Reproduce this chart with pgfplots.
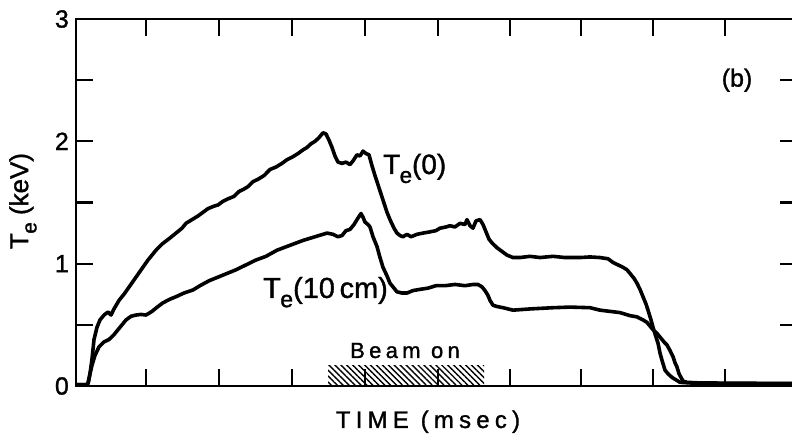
\documentclass[border=0pt]{standalone}
\usepackage{fontspec}
\setmainfont{Liberation Sans}[FakeBold=1.3]
\newfontfamily\spaced{Liberation Sans}[LetterSpace=22, FakeBold=1.3]
\newfontfamily\spacedb{Liberation Sans}[LetterSpace=20, FakeBold=1.3]
\usepackage{graphicx}
\usepackage{pgfplots}
\pgfplotsset{compat=1.18}
\usetikzlibrary{patterns.meta}
\newcommand\Te{T\kern-0.02em\raisebox{-0.32em}{\scalebox{0.8}{e}}}

\begin{document}
\begin{tikzpicture}
\begin{axis}[name=ax, scale only axis, width=721bp, height=367bp,
  xmin=76, xmax=797, ymin=0, ymax=3, axis on top, clip=false,
  xtick={146,219,292,365,438,510,581,653,725}, xticklabels={},
  ytick={0,1,2,3}, minor ytick={0.5,1.5,2.5},
  major tick length=17bp, minor tick length=17bp,
  every tick/.style={line width=2.2bp, black},
  every minor tick/.style={line width=2.2bp, black},
  axis line style={line width=2.8bp},
  /pgf/number format/assume math mode=true,
  yticklabel style={font=\fontsize{25}{28}\selectfont, anchor=east, inner sep=0pt, xshift=-7bp},
]
\addplot[draw=none, pattern={Lines[angle=-45,distance=4.2bp,line width=1.4bp]}]
  coordinates {(328,0)(328,0.165)(484,0.165)(484,0)} -- cycle;

% Te(0)
\addplot[black, line width=3.6bp, line join=round] coordinates {
(76,0.01)(86,0.01)(88,0.02)(90,0.10)(92,0.22)(94,0.38)(97,0.48)(100,0.54)(104,0.58)(108,0.605)(111,0.58)(114,0.63)(119,0.70)(124,0.75)(130,0.82)(136,0.89)(142,0.96)(148,1.03)(156,1.11)(162,1.16)(170,1.21)(176,1.25)(182,1.29)(186,1.33)(192,1.36)(198,1.39)(203,1.42)(208,1.45)(214,1.47)(218,1.48)(223,1.51)(228,1.53)(234,1.55)(239,1.59)(244,1.61)(248,1.63)(253,1.67)(258,1.69)(264,1.72)(270,1.77)(276,1.79)(282,1.82)(287,1.85)(292,1.87)(298,1.90)(303,1.93)(307,1.95)(311,1.98)(315,2.00)(319,2.03)(323,2.07)(326,2.06)(329,2.01)(332,1.95)(335,1.88)(338,1.83)(342,1.82)(346,1.83)(350,1.81)(353,1.84)(357,1.89)(360,1.88)(363,1.92)(366,1.90)(369,1.89)(372,1.80)(375,1.72)(379,1.62)(383,1.52)(387,1.42)(390,1.36)(394,1.29)(397,1.25)(400,1.23)(403,1.22)(407,1.24)(411,1.22)(417,1.24)(423,1.25)(430,1.26)(436,1.27)(440,1.29)(446,1.30)(450,1.31)(455,1.30)(460,1.33)(465,1.32)(467,1.36)(470,1.31)(473,1.29)(476,1.35)(480,1.36)(483,1.32)(486,1.26)(489,1.20)(492,1.17)(497,1.13)(502,1.10)(507,1.07)(513,1.05)(520,1.05)(530,1.06)(540,1.05)(553,1.06)(565,1.05)(580,1.05)(590,1.055)(600,1.05)(608,1.04)(613,1.01)(618,0.99)(623,0.97)(627,0.95)(630,0.92)(634,0.88)(637,0.84)(640,0.79)(643,0.73)(646,0.67)(648,0.62)(651,0.54)(653,0.48)(656,0.40)(658,0.35)(660,0.27)(662,0.21)(665,0.13)(668,0.10)(672,0.07)(676,0.05)(680,0.03)(690,0.025)(720,0.02)(797,0.02)
};

% Te(10 cm)
\addplot[black, line width=3.6bp, line join=round] coordinates {
(76,0.01)(86,0.01)(88,0.02)(90,0.10)(92,0.17)(95,0.25)(99,0.32)(104,0.36)(109,0.38)(114,0.42)(120,0.48)(126,0.54)(131,0.57)(136,0.58)(141,0.585)(146,0.58)(152,0.61)(158,0.65)(163,0.68)(170,0.71)(176,0.73)(184,0.76)(193,0.785)(200,0.82)(209,0.86)(218,0.89)(227,0.92)(236,0.95)(246,0.99)(256,1.03)(266,1.06)(277,1.11)(290,1.15)(303,1.19)(315,1.22)(327,1.25)(333,1.24)(338,1.22)(342,1.23)(346,1.27)(350,1.28)(354,1.32)(357,1.36)(361,1.41)(363,1.38)(365,1.34)(368,1.32)(370,1.30)(373,1.22)(377,1.14)(380,1.05)(383,0.97)(387,0.90)(390,0.84)(394,0.80)(397,0.77)(402,0.76)(407,0.76)(413,0.78)(420,0.79)(428,0.80)(436,0.82)(445,0.82)(455,0.83)(465,0.82)(473,0.83)(478,0.83)(482,0.81)(485,0.78)(488,0.74)(490,0.70)(493,0.66)(497,0.65)(503,0.64)(513,0.62)(530,0.63)(553,0.64)(570,0.645)(590,0.64)(600,0.62)(610,0.61)(620,0.60)(630,0.575)(637,0.565)(643,0.54)(647,0.52)(650,0.49)(653,0.46)(657,0.43)(660,0.40)(664,0.36)(667,0.335)(670,0.29)(673,0.24)(675,0.19)(677,0.155)(679,0.10)(681,0.07)(683,0.04)(687,0.03)(700,0.025)(797,0.02)
};

\node[anchor=base west, inner sep=0pt, font=\fontsize{28}{32}\selectfont] at (axis cs:383,1.733) {\Te(0)};
\node[anchor=base west, inner sep=0pt, font=\fontsize{29}{32}\selectfont] at (axis cs:263,0.72) {\Te(10\,cm)};
\node[anchor=base, inner sep=0pt, font=\fontsize{22}{26}\spacedb] at (axis cs:405,0.229) {Beam on};
\node[anchor=base, inner sep=0pt, font=\fontsize{24}{28}\spaced] at (axis cs:428,-0.343) {TIME (msec)};
\node[anchor=center, inner sep=0pt, font=\fontsize{25}{28}\selectfont] at (axis cs:737,2.50) {(b)};
\node[anchor=center, inner sep=0pt, rotate=90, font=\fontsize{26}{30}\selectfont] at (axis cs:23,1.512) {\Te\ (keV)};
\end{axis}
\pgfresetboundingbox
\path[use as bounding box] ([xshift=-76bp,yshift=-54bp]ax.south west) rectangle ([xshift=716bp,yshift=386bp]ax.south west);
\end{tikzpicture}
\end{document}
